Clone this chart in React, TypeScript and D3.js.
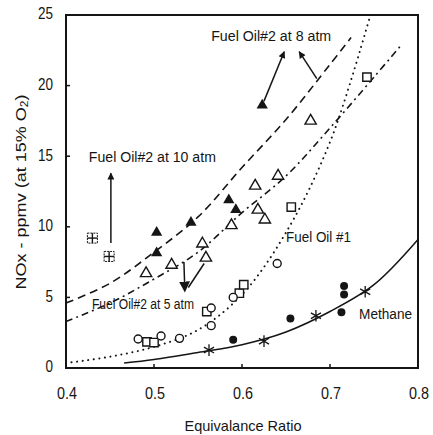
import * as d3 from 'd3';

const W = 433;
const H = 435;

const xTicks = [0.4, 0.5, 0.6, 0.7, 0.8];
const yTicks = [0, 5, 10, 15, 20, 25];

// measured points [equivalence ratio, NOx ppmv]
const filledTriangles = [[0.503, 9.6], [0.503, 8.15], [0.542, 10.3], [0.585, 11.9], [0.593, 11.2], [0.623, 18.6]];
const openTriangles = [[0.491, 6.7], [0.52, 7.3], [0.555, 8.8], [0.559, 7.8], [0.588, 10.1], [0.615, 12.9], [0.618, 11.2], [0.626, 10.5], [0.641, 13.6], [0.678, 17.5]];
const openSquares = [[0.492, 1.85], [0.5, 1.8], [0.56, 4.0], [0.597, 5.3], [0.602, 5.9], [0.656, 11.4], [0.742, 20.6]];
const openCircles = [[0.482, 2.05], [0.508, 2.27], [0.529, 2.1], [0.565, 4.25], [0.565, 3.0], [0.59, 5.0], [0.64, 7.4]];
const hatchedSquares = [[0.43, 9.2], [0.449, 7.9]];
const filledCircles = [[0.59, 2.0], [0.655, 3.5], [0.716, 5.8], [0.716, 5.2], [0.713, 3.95]];
const asterisks = [[0.5625, 1.27], [0.625, 1.9], [0.684, 3.7], [0.74, 5.4]];

// fitted curves
const curve10atm = [[0.4, 4.6], [0.45, 6.0], [0.5, 8.2], [0.55, 10.7], [0.6, 14.2], [0.65, 17.6], [0.7, 21.5], [0.724, 23.4]];
const curveDashDot = [[0.4, 3.3], [0.45, 4.6], [0.5, 6.3], [0.55, 8.2], [0.6, 11.0], [0.65, 13.6], [0.7, 17.0], [0.75, 20.6], [0.78, 22.8]];
const curveFuelOil1 = [[0.4, 0.35], [0.45, 0.8], [0.5, 1.5], [0.55, 2.7], [0.6, 5.2], [0.65, 9.6], [0.7, 16.0], [0.745, 24.8]];
const curveMethane = [[0.466, 0.35], [0.5, 0.6], [0.55, 1.1], [0.6, 1.65], [0.65, 2.55], [0.7, 4.0], [0.75, 5.9], [0.8, 9.1]];

const labels = [
  { text: 'Fuel Oil#2 at 8 atm', x: 0.565, y: 23.45, w: 120 },
  { text: 'Fuel Oil#2 at 10 atm', x: 0.426, y: 14.87, w: 127 },
  { text: 'Fuel Oil#2 at 5 atm', x: 0.4295, y: 4.46, w: 102 },
  { text: 'Fuel Oil #1', x: 0.65, y: 9.2, w: 65 },
  { text: 'Methane', x: 0.733, y: 3.75, w: 53 },
];

// arrows [from, to], head at "to"
const arrows = [
  [[0.451, 8.85], [0.451, 13.8]],
  [[0.625, 18.9], [0.648, 22.4]],
  [[0.685, 20.5], [0.665, 22.4]],
  [[0.534, 7.5], [0.535, 5.5]],
  [[0.557, 7.4], [0.539, 5.7]],
];

const font = "'Liberation Sans', Arial, sans-serif";
const ink = '#151515';

export default function App() {
  const x = d3.scaleLinear().domain([0.4, 0.8]).range([66, 418]);
  const y = d3.scaleLinear().domain([0, 25]).range([368, 15]);

  const mk = (c) => d3.line().x(d => x(d[0])).y(d => y(d[1])).curve(d3.curveCatmullRom)(c);
  const tri = d3.symbol(d3.symbolTriangle, 55)();
  const sq = d3.symbol(d3.symbolSquare, 70)();
  const circ = d3.symbol(d3.symbolCircle, 50)();
  const ast = d3.symbol(d3.symbolAsterisk, 95)();

  return (
    <svg width={W} height={H} style={{ position: 'absolute', left: 0, top: 0, background: '#fff' }}>
      <defs>
        <marker id="ah" viewBox="0 0 10 10" refX="9" refY="5" markerWidth="8" markerHeight="7" orient="auto-start-reverse" markerUnits="userSpaceOnUse">
          <path d="M0,0 L10,5 L0,10 z" fill={ink} />
        </marker>
        <marker id="ahBig" viewBox="0 0 10 10" refX="8" refY="5" markerWidth="11" markerHeight="12" orient="auto-start-reverse" markerUnits="userSpaceOnUse">
          <path d="M0,0 L10,5 L0,10 z" fill={ink} />
        </marker>
      </defs>

      {/* frame */}
      <rect x={x(0.4)} y={y(25)} width={x(0.8) - x(0.4)} height={y(0) - y(25)} fill="none" stroke={ink} strokeWidth={2} />

      {/* y ticks */}
      {yTicks.map(t => (
        <g key={'y' + t}>
          {t > 0 && t < 25 && <line x1={x(0.4)} x2={x(0.4) + 4} y1={y(t)} y2={y(t)} stroke={ink} strokeWidth={1.5} />}
          <text x={x(0.4) - 13} y={y(t)} textAnchor="end" dominantBaseline="middle" fontFamily={font} fontSize={17} fill={ink}
            textLength={String(t).length * 7.5} lengthAdjust="spacingAndGlyphs">{t}</text>
        </g>
      ))}

      {/* x ticks */}
      {xTicks.map(t => (
        <g key={'x' + t}>
          {t > 0.4 && t < 0.8 && <line x1={x(t)} x2={x(t)} y1={y(0)} y2={y(0) - 4} stroke={ink} strokeWidth={1.5} />}
          <text x={x(t) + 1} y={395} textAnchor="middle" dominantBaseline="middle" fontFamily={font} fontSize={17} fill={ink}
            textLength={20} lengthAdjust="spacingAndGlyphs">{d3.format('.1f')(t)}</text>
        </g>
      ))}

      <text x={243} y={427} textAnchor="middle" dominantBaseline="middle" fontFamily={font} fontSize={15} fill={ink} textLength={117} lengthAdjust="spacingAndGlyphs">Equivalance Ratio</text>
      <text transform="translate(22,192) rotate(-90)" textAnchor="middle" dominantBaseline="middle" fontFamily={font} fontSize={15} fill={ink} textLength={195} lengthAdjust="spacingAndGlyphs">
        NOx - ppmv (at 15% O<tspan fontSize={10} dy={3}>2</tspan><tspan dy={-3}>)</tspan>
      </text>

      {/* curves */}
      <path d={mk(curve10atm)} fill="none" stroke={ink} strokeWidth={1.6} strokeDasharray="8,5" />
      <path d={mk(curveDashDot)} fill="none" stroke={ink} strokeWidth={1.6} strokeDasharray="7,4,2,4" />
      <path d={mk(curveFuelOil1)} fill="none" stroke={ink} strokeWidth={2} strokeDasharray="0.1,5.5" strokeLinecap="round" />
      <path d={mk(curveMethane)} fill="none" stroke={ink} strokeWidth={1.5} />

      {/* arrows */}
      {arrows.map((a, i) => (
        <line key={'a' + i} x1={x(a[0][0])} y1={y(a[0][1])} x2={x(a[1][0])} y2={y(a[1][1])} stroke={ink} strokeWidth={1.5}
          markerEnd={i === 4 ? undefined : i === 3 ? 'url(#ahBig)' : 'url(#ah)'} />
      ))}

      {/* markers */}
      {filledTriangles.map((d, i) => <path key={'ft' + i} d={tri} transform={`translate(${x(d[0])},${y(d[1])})`} fill={ink} />)}
      {openTriangles.map((d, i) => <path key={'ot' + i} d={tri} transform={`translate(${x(d[0])},${y(d[1])})`} fill="#fff" stroke={ink} strokeWidth={1.4} />)}
      {openSquares.map((d, i) => <path key={'os' + i} d={sq} transform={`translate(${x(d[0])},${y(d[1])})`} fill="#fff" stroke={ink} strokeWidth={1.4} />)}
      {openCircles.map((d, i) => <path key={'oc' + i} d={circ} transform={`translate(${x(d[0])},${y(d[1])})`} fill="#fff" stroke={ink} strokeWidth={1.4} />)}
      {filledCircles.map((d, i) => <path key={'fc' + i} d={circ} transform={`translate(${x(d[0])},${y(d[1])})`} fill={ink} />)}
      {asterisks.map((d, i) => <path key={'as' + i} d={ast} transform={`translate(${x(d[0])},${y(d[1])})`} fill="none" stroke={ink} strokeWidth={1.3} />)}
      {hatchedSquares.map((d, i) => (
        <g key={'hs' + i} transform={`translate(${x(d[0])},${y(d[1])})`} stroke={ink} fill="none">
          <rect x={-5} y={-5} width={10} height={10} strokeWidth={1} strokeDasharray="2,1" />
          <line x1={0} x2={0} y1={-5} y2={5} strokeWidth={1.4} />
          <line x1={-5} x2={5} y1={0} y2={0} strokeWidth={1.4} />
        </g>
      ))}

      {/* labels */}
      {labels.map(l => (
        <text key={l.text} x={x(l.x)} y={y(l.y)} dominantBaseline="middle" fontFamily={font} fontSize={14} fill={ink} textLength={l.w} lengthAdjust="spacingAndGlyphs">{l.text}</text>
      ))}
    </svg>
  );
}
